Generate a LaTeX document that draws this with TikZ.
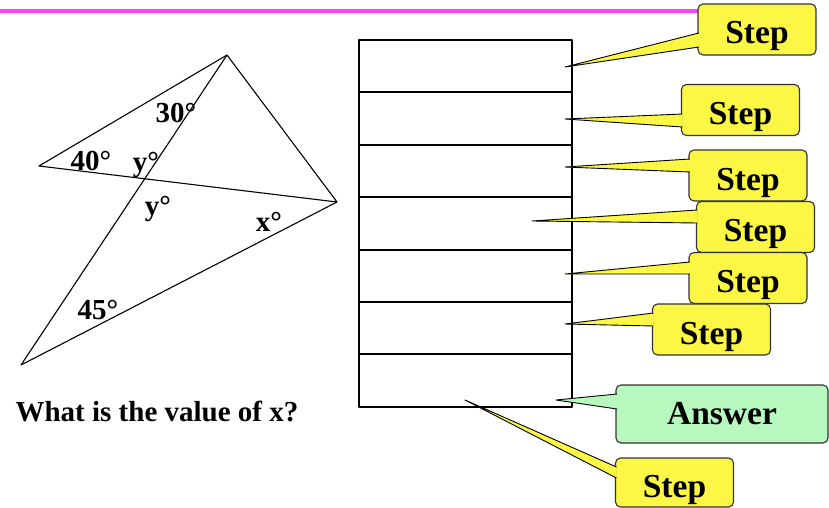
\documentclass[tikz,border=0pt]{standalone}
\usepackage{fontspec}
\setmainfont{Liberation Serif}
\usepackage{xcolor}
\usepackage{tikz}
\usetikzlibrary{positioning, calc}

\definecolor{stepyellow}{RGB}{252,246,68}
\definecolor{ansgreen}{RGB}{182,248,190}
\definecolor{titlepink}{RGB}{255,64,255}
\definecolor{boxedge}{RGB}{50,50,50}

\begin{document}
\begin{tikzpicture}[x=1pt, y=-1pt, line join=round,
  anglab/.style={font=\fontsize{29}{32}\selectfont\bfseries, inner sep=0pt},
  stepbox/.style={draw=boxedge, line width=1.1pt, fill=stepyellow, rounded corners=5pt,
    minimum width=118pt, minimum height=51pt, inner sep=0pt,
    text height=36pt, text depth=7pt,
    font=\fontsize{33.5}{36}\selectfont\bfseries},
  ansbox/.style={stepbox, fill=ansgreen, minimum width=212pt, minimum height=58pt,
    text height=, text depth=},
  wedge/.style={draw=black, line width=0.9pt}]

\useasboundingbox (0,0) rectangle (829,508);

% title rule
\draw[titlepink, line width=4.5pt] (0,11) -- (700,11);

% the figure
\coordinate (A) at (227,55);
\coordinate (B) at (39,166);
\coordinate (C) at (337,202);
\coordinate (D) at (21,365);
\draw[line width=1.1pt] (B) -- (A) -- (C) -- cycle;
\draw[line width=1.1pt] (A) -- (D) -- (C);

\node[anglab] (a30) at (176,113) {30°};
\node[anglab] (a40) at (91,161) {40°};
\node[anglab] (ay1) at (146,165) {y°};
\node[anglab] (ay2) at (158,209) {y°};
\node[anglab] (ax) at (269,222) {x°};
\node[anglab] (a45) at (98,310) {45°};
\node[anglab] (q) at (157,412) {What is the value of x?};

% answer grid
\draw[line width=2.6pt] (359,40) rectangle (572,407);
\foreach \y in {92,145,197,250,302,354}
  \draw[line width=1.1pt] (359,\y) -- (572,\y);

% callouts
\node[stepbox] (s1) at (757,29.5) {Step};
\node[stepbox] (s2) at (740.5,110) {Step};
\node[stepbox] (s3) at (748,175.5) {Step};
\node[stepbox] (s4) at (755.5,227) {Step};
\node[stepbox] (s5) at (748,278) {Step};
\node[stepbox] (s6) at (711.5,329.5) {Step};
\node[ansbox] (ans) at (722,414) {Answer};
\node[stepbox, minimum height=49pt] (s7) at (674.5,482.5) {Step};

\coordinate (t1) at (565,67);
\coordinate (t2) at (565,119);
\coordinate (t3) at (565,167);
\coordinate (t4) at (532,221);
\coordinate (t5) at (565,274);
\coordinate (t6) at (565,324);
\coordinate (tans) at (556,400);
\coordinate (t7) at (465,400);

\foreach \b/\t/\ya/\yb/\c in {s1/t1/33/47/stepyellow, s2/t2/114/127/stepyellow,
    s3/t3/159/172/stepyellow, s4/t4/210/223/stepyellow, s5/t5/262/274/stepyellow,
    s6/t6/313/326/stepyellow, ans/tans/394/409/ansgreen, s7/t7/467/478/stepyellow}
  \draw[wedge, fill=\c] ($(\b.west |- 0,\ya)+(1.5,0)$) -- (\t) -- ($(\b.west |- 0,\yb)+(1.5,0)$);
\end{tikzpicture}
\end{document}
